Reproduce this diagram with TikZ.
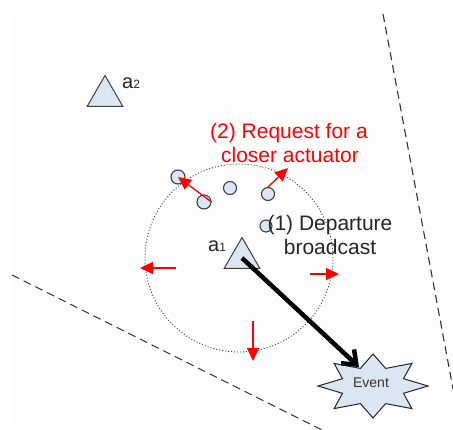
\documentclass[tikz,border=0pt]{standalone}
\usepackage{fontspec}
\setmainfont{Liberation Sans}
\usetikzlibrary{arrows.meta,shapes.geometric}
\definecolor{nodefill}{HTML}{DCE6F2}
\definecolor{edgegray}{HTML}{404040}
\definecolor{redarrow}{HTML}{FF0000}
\definecolor{paper}{HTML}{FDFDFD}
\begin{document}
\begin{tikzpicture}[x=1pt,y=-1pt,
  actuator/.style={regular polygon, regular polygon sides=3, draw=edgegray, fill=nodefill,
    line width=1pt, minimum size=41pt, inner sep=0pt},
  sensor/.style={circle, draw=edgegray, fill=nodefill, line width=1.1pt, inner sep=0pt},
  redarr/.style={draw=redarrow, line width=1.3pt, -{Triangle[length=13pt,width=12pt]}},
  boundary/.style={draw=black!80, line width=1.1pt, dash pattern=on 8pt off 5pt},
  rangecircle/.style={circle, draw=black!75, line width=0.9pt, dash pattern=on 1pt off 2pt,
    minimum size=188pt, inner sep=0pt},
  txt/.style={font=\fontsize{21}{24}\selectfont, anchor=base, inner sep=0pt},
  albl/.style={font=\fontsize{20}{20}\selectfont, anchor=base west, inner sep=0pt, text=black!85},
  eventstar/.style={draw=black!85, fill=nodefill, line width=1pt, line join=miter},
  eventarrow/.style={draw=black, line width=4.5pt, -{Straight Barb[length=12pt,width=19pt]}},
]
\useasboundingbox (0,0) rectangle (453,429);
\fill[paper] (12,13) rectangle (453,429);

% boundaries
\coordinate (b1s) at (12,275);
\coordinate (b1e) at (322,430);
\coordinate (b2s) at (383,14);
\coordinate (b2e) at (454,394);
\draw[boundary] (b1s) -- (b1e);
\draw[boundary] (b2s) -- (b2e);

% communication range
\node[rangecircle] (range) at (239,258) {};

% actuators
\node[actuator] (a2) at (105,96) {};
\node[albl] (a2lbl) at (122,88) {a{\fontsize{12}{12}\selectfont 2}};
\node[actuator] (a1) at (242,258) {};
\node[albl] (a1lbl) at (208,251) {a{\fontsize{12}{12}\selectfont 1}};

% sensors
\node[sensor, minimum size=14pt] (s1) at (178,177) {};
\node[sensor, minimum size=14pt] (s2) at (204,202) {};
\node[sensor, minimum size=13pt] (s3) at (230,188) {};
\node[sensor, minimum size=13pt] (s4) at (268,194) {};
\node[sensor, minimum size=12pt] (s5) at (266,226) {};

% event
\draw[eventstar] (428,386) -- (403.5,393.3) -- (411.9,408.6) -- (385.6,403.6) -- (373,418)
  -- (360.4,403.6) -- (334.1,408.6) -- (342.5,393.3) -- (318,386) -- (342.5,378.7)
  -- (334.1,363.4) -- (360.4,368.4) -- (373,354) -- (385.6,368.4) -- (411.9,363.4)
  -- (403.5,378.7) -- cycle;
\node[font=\fontsize{14}{14}\selectfont, text=black!80, inner sep=0pt] (ev) at (371,383) {Event};
\coordinate (evtip) at (359,367);

% red arrows
\coordinate (r2e) at (288,168);
\draw[redarr] (s2.east) -- (s1.center);
\draw[redarr] (s4.north) -- (r2e);
\coordinate (lefts) at (176,268);
\coordinate (lefte) at (140,268);
\coordinate (rights) at (310,274);
\coordinate (righte) at (339,274);
\coordinate (downs) at (253,321);
\coordinate (downe) at (253,361);
\draw[redarr] (lefts) -- (lefte);
\draw[redarr] (rights) -- (righte);
\draw[redarr] (downs) -- (downe);

% movement to event
\draw[eventarrow] (a1.center) -- (evtip);

% labels
\node[txt, text=redarrow] (req1) at (289,138) {(2) Request for a};
\node[txt, text=redarrow] (req2) at (290,162) {closer actuator};
\node[txt, text=black!85] (dep1) at (330,230) {(1) Departure};
\node[txt, text=black!85] (dep2) at (330,254) {broadcast};
\end{tikzpicture}
\end{document}
